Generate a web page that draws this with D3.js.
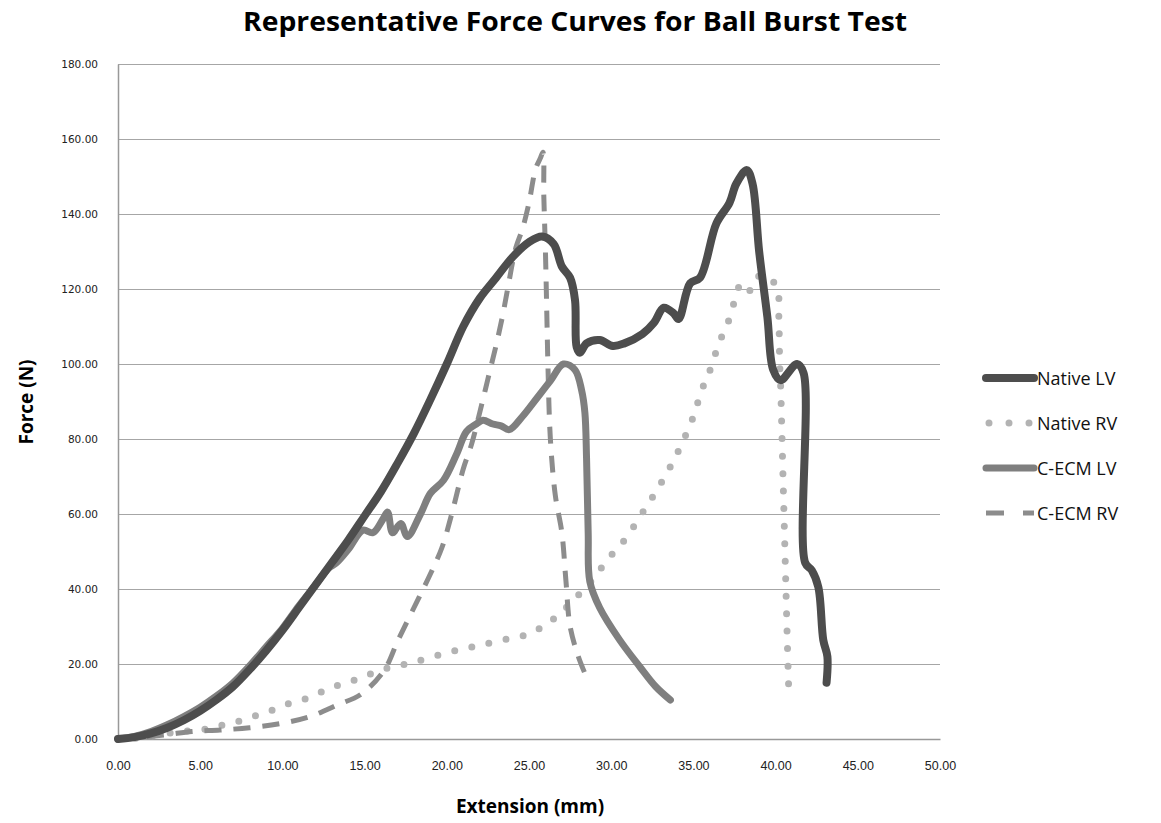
<!DOCTYPE html>
<html>
<head>
<meta charset="utf-8">
<script src="https://cdn.jsdelivr.net/npm/d3@7"></script>
<style>
  body { margin: 0; background: #fff; }
  svg { display: block; }
</style>
</head>
<body>
<div id="chart"></div>
<script>
// Series data: [extension (mm), force (N)]
const nativeLV = [
  [0, 0], [1, 0.5], [2, 1.5], [3, 3], [4, 5], [5, 7.5], [6, 10.5], [7, 14], [8, 18.5],
  [9, 23.5], [10, 29], [11, 35], [12, 41], [13, 47], [14, 53], [15, 59.5], [16, 66],
  [17, 73.5], [18, 81.5], [19, 90.5], [20, 100], [21, 110], [22, 117.5], [23, 123],
  [24, 128.5], [25, 132.5], [25.8, 134], [26.5, 132], [27, 126], [27.5, 123], [27.8, 117],
  [27.9, 104.5], [28.1, 103], [28.5, 105.5], [29.3, 106.4], [30.1, 104.8], [30.8, 105.5],
  [31.9, 108], [32.6, 111], [33.2, 115], [33.8, 113.5], [34.1, 112], [34.8, 121.5],
  [35.4, 123], [36.4, 137.5], [37.2, 143], [37.6, 148], [38.25, 151.7], [38.6, 148],
  [39.0, 130], [39.5, 112.5], [39.85, 98.5], [40.3, 95.7], [41.3, 100], [41.7, 97.6],
  [41.8, 47], [42.2, 45], [42.6, 40.5], [42.9, 26.4], [43.15, 22], [43.1, 15]
];

const nativeRV = [
  [0, 0], [1, 0.2], [2, 0.8], [3, 1.5], [3.9, 2], [4.8, 2.4], [5.8, 2.9], [6.7, 4.2],
  [7.6, 5], [8.5, 6.4], [9.4, 7.7], [10.3, 9.3], [11.2, 10.4], [12.1, 12], [12.9, 13.6],
  [13.8, 14.9], [14.6, 16], [15.5, 17.6], [16.4, 18.9], [18, 20.5], [20, 23], [22, 25],
  [24, 27], [25, 28], [25.7, 29.6], [26.4, 31.7], [27.1, 34.4], [27.7, 37], [28.4, 40.2],
  [29.1, 43.7], [29.6, 46.9], [30.2, 50], [30.8, 53], [32, 61], [33, 68], [34, 76],
  [35, 86], [35.5, 93], [35.9, 97], [36.25, 101.6], [36.6, 106], [37, 110], [37.35, 114],
  [37.6, 119], [38, 121.6], [38.4, 119.5], [38.8, 123], [39.5, 123.4], [40.1, 120],
  [40.2, 112], [40.25, 100], [40.3, 95], [40.45, 70], [40.6, 45], [40.7, 28], [40.8, 13]
];

const cecmLV = [
  [0, 0], [1, 0.7], [2, 2], [3, 3.8], [4, 6], [5, 8.5], [6, 11.5], [7, 15], [8, 19.5],
  [9, 24.5], [10, 29.5], [11, 35.5], [12, 41], [12.8, 45.5], [13.3, 47], [14, 50.5],
  [14.9, 55.7], [15.5, 55], [16.1, 58.5], [16.4, 60.5], [16.7, 55], [17.2, 57.5],
  [17.6, 54], [18.4, 60], [19, 65.5], [19.8, 69], [20.6, 76], [21.2, 82], [21.8, 84],
  [22.2, 85], [22.8, 84], [23.3, 83.5], [23.8, 82.5], [24.6, 86], [25.5, 91], [26.3, 95.5],
  [27.1, 100], [27.8, 98.4], [28.2, 93], [28.4, 87], [28.5, 75], [28.6, 55], [28.7, 42],
  [29.3, 35], [30.5, 26.5], [31.75, 19.2], [32.7, 14], [33.6, 10.4]
];

const cecmRV = [
  [0, 0], [1.5, 0.5], [3, 1.2], [4.5, 2], [6.2, 2.4], [8, 3], [10, 4.2], [11.7, 6],
  [13.3, 9], [14.8, 12], [16.2, 18.4], [17, 26], [18, 35], [19, 44], [19.7, 51],
  [20.3, 60], [21, 72], [21.5, 78.5], [22, 87], [22.5, 96], [23, 105], [23.4, 113],
  [23.7, 120], [24.2, 131], [24.6, 136], [25, 143], [25.4, 152], [25.7, 155],
  [25.85, 156.5], [25.9, 145], [26, 130], [26.1, 110], [26.15, 100], [26.3, 80],
  [26.6, 65], [27, 55], [27.25, 42], [27.5, 30], [28, 22], [28.4, 17.5]
];

const seriesNames = ["Native LV", "Native RV", "C-ECM LV", "C-ECM RV"];
const xTicks = [0, 5, 10, 15, 20, 25, 30, 35, 40, 45, 50];
const yTicks = [0, 20, 40, 60, 80, 100, 120, 140, 160, 180];

// Chart Dimensions
const W = 1161, H = 823;
const margin = { top: 64, right: 221, bottom: 84, left: 118 };
const width = W - margin.left - margin.right;
const height = H - margin.top - margin.bottom;

const root = d3.select("#chart")
  .append("svg")
  .attr("width", W)
  .attr("height", H);

const svg = root.append("g")
  .attr("transform", `translate(${margin.left},${margin.top})`);

// Scales
const x = d3.scaleLinear().domain([0, 50]).range([0, width]);
const y = d3.scaleLinear().domain([0, 180]).range([height, 0]);

// Gridlines
svg.append("g")
  .call(d3.axisLeft(y).tickValues(yTicks).tickSize(-width).tickFormat(""))
  .call(g => g.select(".domain").remove())
  .selectAll("line")
  .attr("stroke", "#a6a6a6")
  .attr("stroke-width", 1.2);

// Y axis
const yAxis = svg.append("g")
  .call(d3.axisLeft(y).tickValues(yTicks).tickSize(0).tickPadding(20).tickFormat(d3.format(".2f")));
yAxis.select(".domain").attr("stroke", "#999").attr("stroke-width", 1.5);
yAxis.selectAll("text")
  .attr("font-family", "'DejaVu Sans', Verdana, sans-serif")
  .attr("font-size", 10.5)
  .attr("fill", "#222");

// X axis
const xAxis = svg.append("g")
  .attr("transform", `translate(0,${height})`)
  .call(d3.axisBottom(x).tickValues(xTicks).tickSize(0).tickPadding(22).tickFormat(d3.format(".2f")));
xAxis.select(".domain").attr("stroke", "#999").attr("stroke-width", 1.5);
xAxis.selectAll("text")
  .attr("font-family", "'Liberation Sans Narrow', 'Arial Narrow', sans-serif")
  .attr("font-size", 12.5)
  .attr("fill", "#222");

// Lines
const line = d3.line()
  .x(d => x(d[0]))
  .y(d => y(d[1]))
  .curve(d3.curveCatmullRom.alpha(0.5));

const styles = [
  { data: nativeLV, color: "#4d4d4d", w: 8, dash: null },
  { data: nativeRV, color: "#b3b3b3", w: 7, dash: "0,17.5" },
  { data: cecmLV, color: "#7f7f7f", w: 7, dash: null },
  { data: cecmRV, color: "#8c8c8c", w: 5, dash: "17,12" }
];

// draw order: Native RV, C-ECM RV below, then LV curves
[1, 3, 2, 0].forEach(i => {
  const s = styles[i];
  svg.append("path")
    .datum(s.data)
    .attr("fill", "none")
    .attr("stroke", s.color)
    .attr("stroke-width", s.w)
    .attr("stroke-linecap", s.dash && s.dash.startsWith("0") ? "round" : (s.dash ? "butt" : "round"))
    .attr("stroke-linejoin", "round")
    .attr("stroke-dasharray", s.dash)
    .attr("d", line);
});

// Title
root.append("text")
  .attr("x", 575)
  .attr("y", 31)
  .attr("text-anchor", "middle")
  .attr("font-family", "'Open Sans', sans-serif")
  .attr("font-weight", "bold")
  .attr("font-size", 27)
  .attr("textLength", 664)
  .attr("lengthAdjust", "spacingAndGlyphs")
  .attr("fill", "#000")
  .text("Representative Force Curves for Ball Burst Test");

// Axis titles
root.append("text")
  .attr("x", 530)
  .attr("y", 813)
  .attr("text-anchor", "middle")
  .attr("font-family", "'Open Sans', sans-serif")
  .attr("font-weight", "bold")
  .attr("font-size", 19)
  .attr("fill", "#000")
  .text("Extension (mm)");

root.append("text")
  .attr("transform", "translate(33,402) rotate(-90)")
  .attr("text-anchor", "middle")
  .attr("font-family", "'Open Sans', sans-serif")
  .attr("font-weight", "bold")
  .attr("font-size", 19)
  .attr("fill", "#000")
  .text("Force (N)");

// Legend
const legend = root.append("g").attr("transform", "translate(986,378)");
seriesNames.forEach((name, i) => {
  const s = styles[i];
  const g = legend.append("g").attr("transform", `translate(0,${i * 45})`);
  g.append("line")
    .attr("x1", i === 1 ? 3 : 0)
    .attr("x2", i === 1 ? 45 : 48)
    .attr("y1", 0).attr("y2", 0)
    .attr("stroke", s.color)
    .attr("stroke-width", s.w)
    .attr("stroke-linecap", i === 3 ? "butt" : "round")
    .attr("stroke-dasharray", i === 1 ? "0,20" : (i === 3 ? "18,19" : null));
  g.append("text")
    .attr("x", 51)
    .attr("y", 7)
    .attr("font-family", "'Open Sans', sans-serif")
    .attr("font-size", 18)
    .attr("fill", "#111")
    .text(name);
});
</script>
</body>
</html>
